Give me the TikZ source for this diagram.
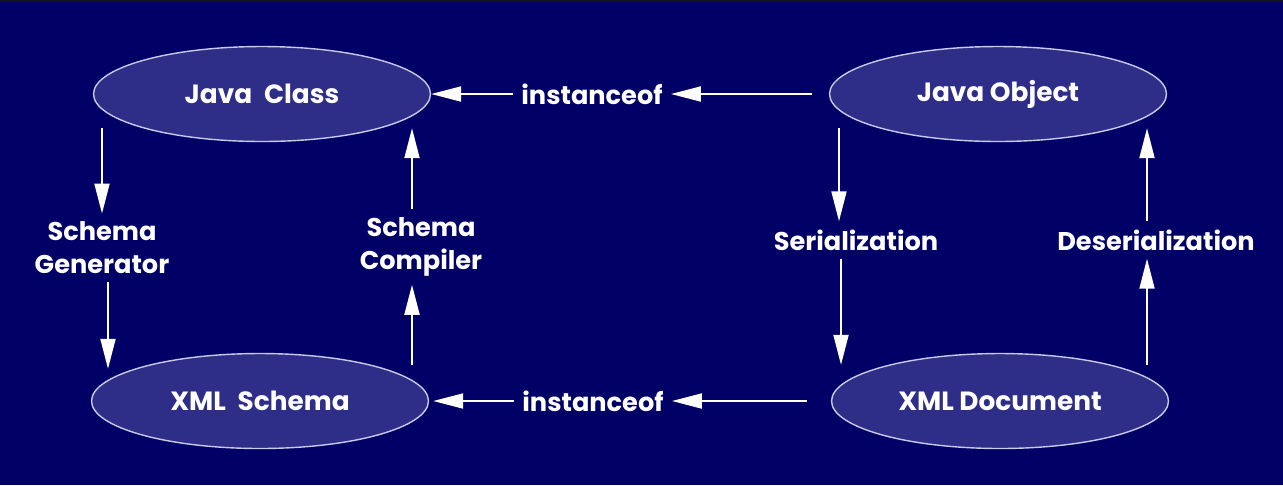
\documentclass[tikz,border=0pt]{standalone}
\usepackage{fontspec}
\setmainfont{Poppins}
\usetikzlibrary{shapes.geometric,arrows.meta,calc}
\definecolor{NightBlue}{RGB}{0,0,102}
\definecolor{BubbleBlue}{RGB}{46,46,136}
\definecolor{RimGrey}{RGB}{200,200,232}
\begin{document}
\begin{tikzpicture}[x=0.02cm,y=-0.02cm,
    >={Triangle[length=6mm,width=3mm]},
    bubble/.style={ellipse,draw=RimGrey,fill=BubbleBlue,line width=0.8pt,
                   minimum width=6.74cm,minimum height=1.9cm,inner sep=0pt,
                   text=white,font=\fontsize{15}{18}\selectfont\bfseries},
    lbl/.style={text=white,align=center,inner sep=0.16cm,
                font=\fontsize{14.6}{18.8}\selectfont\bfseries},
    arr/.style={->,white,line width=1.1pt}]
  % background
  \fill[NightBlue] (0,0) rectangle (1283,485);
  \fill[black!92] (0,0) rectangle (1283,2);
  % the four things
  \node[bubble] (jclass) at (262,94) {Java\hspace{0.45em}Class};
  \node[bubble] (jobj) at (998,94) {Java Object};
  \node[bubble] (xschema) at (260,401) {XML\hspace{0.45em}Schema};
  \node[bubble] (xdoc) at (1000,401) {XML Document};
  % labels
  \node[lbl] (inst1) at (592,94) {instanceof};
  \node[lbl] (inst2) at (593,401) {instanceof};
  \node[lbl] (gen) at (102,248) {Schema\\Generator};
  \node[lbl] (comp) at (421,247) {Schema\\Compiler};
  \node[lbl] (ser) at (856,240) {Serialization};
  \node[lbl] (deser) at (1156,240) {Deserialization};
  % instanceof
  \draw[arr,shorten <=0.34cm] (jobj.west) -- (inst1.east);
  \draw[arr] (inst1.west) -- (jclass.east);
  \draw[arr,shorten <=0.48cm] (xdoc.west) -- (inst2.east);
  \draw[arr,shorten >=0.08cm] (inst2.west) -- (xschema.east);
  % schema side
  \draw[arr] ($(jclass.south)+(-160,-14)$) -- (gen.north);
  \draw[arr] ($(gen.south)+(6,0)$) -- ($(xschema.north)+(-152,16)$);
  \draw[arr] ($(xschema.north)+(152,12)$) -- ($(comp.south)+(-9,0)$);
  \draw[arr] ($(comp.north)+(-9,0)$) -- ($(jclass.south)+(150,-14)$);
  % object side
  \draw[arr] ($(jobj.south)+(-159,-14)$) -- ($(ser.north)+(-17,0)$);
  \draw[arr] ($(ser.south)+(-15,0)$) -- ($(xdoc.north)+(-159,12)$);
  \draw[arr] ($(xdoc.north)+(147,12)$) -- ($(deser.south)+(-9,0)$);
  \draw[arr] ($(deser.north)+(-9,0)$) -- ($(jobj.south)+(149,-14)$);
\end{tikzpicture}
\end{document}
